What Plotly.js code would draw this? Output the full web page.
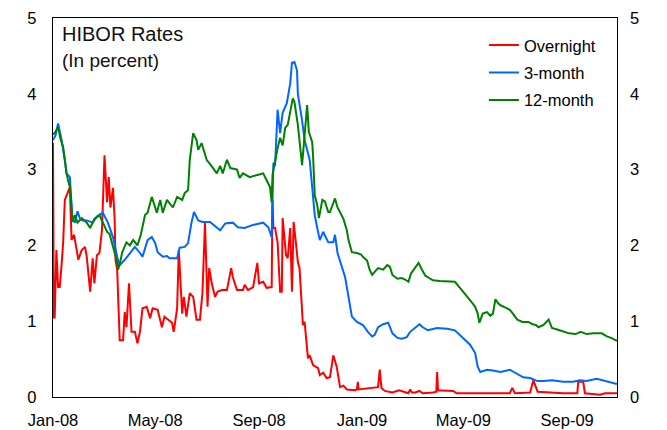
<!DOCTYPE html>
<html>
<head>
<meta charset="utf-8">
<script src="https://cdn.plot.ly/plotly-3.0.1.min.js"></script>
<style>html,body{margin:0;padding:0;background:#fff;}#chart{width:667px;height:430px;}</style>
</head>
<body>
<div id="chart"></div>
<script>
// Days counted from 2008-01-01, values in percent
var seriesNames = ["Overnight", "3-month", "12-month"];

var overnightDays = [0,1,2,4,6,8,10,12,14,17,20,22,25,28,30,34,38,40,44,47,49,52,55,58,61,64,66,68,71,73,74,76,79,83,85,87,90,93,97,100,103,106,111,115,118,124,129,132,136,141,143,147,149,153,155,158,162,166,170,174,177,180,182,183,185,188,192,195,200,206,211,213,218,225,227,231,237,242,244,249,253,258,259,260,261,263,266,269,271,272,276,278,281,283,285,288,290,292,295,296,298,301,302,304,308,314,316,320,324,328,332,336,340,344,348,358,360,361,362,385,387,389,393,402,410,421,423,425,429,434,438,450,454,455,456,474,478,541,544,547,565,569,574,604,621,622,628,630,648,654,668];
var overnightVals = [3.35,1.05,1.05,1.94,1.45,1.45,1.72,2.03,2.6,2.7,2.77,2.07,2.14,1.94,1.81,1.94,1.98,1.85,1.39,1.83,1.5,1.87,1.9,2.2,3.19,2.57,2.9,2.5,2.76,2.35,1.81,1.68,0.75,0.75,1.12,0.92,1.5,0.86,0.86,0.71,0.86,1.17,1.19,1.04,1.17,1.15,0.92,1.06,1.02,0.98,0.86,1.17,1.94,1.1,1.32,1.06,1.37,1.32,1.02,1.02,1.37,2.3,1.58,1.19,1.7,1.5,1.32,1.39,1.41,1.41,1.7,1.58,1.41,1.41,1.48,1.41,1.45,1.77,1.5,1.52,1.44,1.45,1.45,2.6,2.23,2.23,2.04,1.39,1.39,2.36,1.87,1.83,2.23,1.39,2.31,2.0,1.78,1.7,1.17,0.95,0.99,0.59,0.51,0.55,0.42,0.38,0.29,0.32,0.25,0.26,0.55,0.4,0.13,0.15,0.1,0.09,0.1,0.2,0.1,0.13,0.36,0.12,0.08,0.06,0.09,0.05,0.1,0.06,0.06,0.08,0.05,0.06,0.07,0.33,0.09,0.08,0.05,0.05,0.12,0.05,0.06,0.22,0.07,0.05,0.05,0.2,0.2,0.05,0.03,0.05,0.05];

var threeMonthDays = [0,3,6,10,14,16,20,22,23,26,29,32,35,40,47,52,55,59,65,71,76,79,85,91,97,103,106,112,117,121,124,130,135,138,147,150,156,160,164,167,172,177,186,198,204,213,219,227,237,249,255,259,260,261,263,266,269,272,277,281,283,286,289,290,295,298,304,308,310,313,316,320,326,332,334,337,346,350,354,360,367,373,378,381,385,391,397,402,408,413,419,423,429,434,438,444,455,467,476,485,494,500,503,506,514,521,530,541,547,557,565,574,581,591,604,616,624,632,644,656,663,668];
var threeMonthVals = [3.39,3.45,3.61,3.4,3.13,2.95,2.9,2.6,2.35,2.3,2.45,2.35,2.33,2.33,2.3,2.38,2.4,2.43,2.3,2.11,1.85,1.74,1.81,1.9,1.98,1.9,1.85,2.07,2.11,2.03,1.91,1.85,1.86,1.83,1.83,1.97,1.98,2.03,2.3,2.44,2.33,2.31,2.31,2.2,2.29,2.3,2.24,2.23,2.27,2.3,2.24,2.11,2.47,3.09,3.05,3.79,3.48,3.75,3.88,4.14,4.41,4.42,4.31,4.0,3.65,3.39,3.13,2.6,2.4,2.23,2.07,2.18,2.04,2.04,2.14,1.9,1.58,1.32,1.06,0.99,0.95,0.86,0.8,0.82,0.92,0.96,0.98,0.84,0.78,0.77,0.79,0.86,0.91,0.96,0.92,0.88,0.91,0.9,0.88,0.79,0.69,0.58,0.4,0.33,0.36,0.35,0.33,0.36,0.32,0.26,0.25,0.21,0.21,0.22,0.2,0.2,0.22,0.21,0.24,0.2,0.18,0.17];

var twelveMonthDays = [0,3,6,9,12,14,16,18,20,22,23,26,29,34,40,44,49,55,59,64,67,71,76,77,79,82,87,91,95,100,104,109,112,117,123,127,130,135,142,147,153,156,160,162,166,170,172,176,182,189,194,198,201,206,210,218,221,225,233,242,249,253,257,259,260,266,269,272,275,278,281,284,286,290,295,297,301,303,307,308,310,313,315,319,322,326,328,334,337,344,348,350,354,360,365,367,372,375,378,381,385,391,396,399,402,408,413,417,421,424,429,433,437,441,444,450,458,467,476,482,490,496,500,503,505,509,514,518,521,524,527,530,536,541,544,550,556,563,568,572,575,581,587,591,600,611,619,625,632,640,650,656,661,668];
var twelveMonthVals = [3.46,3.5,3.56,3.4,3.3,3.1,2.95,2.85,2.77,2.5,2.31,2.4,2.3,2.36,2.3,2.23,2.35,2.4,2.3,2.18,2.15,2.0,1.78,1.68,1.75,1.91,2.04,2.0,2.07,2.0,2.14,2.4,2.43,2.64,2.43,2.6,2.43,2.6,2.5,2.64,2.6,2.69,2.73,3.13,3.48,3.39,3.26,3.35,3.13,3.03,2.95,3.05,2.95,3.13,3.02,3.0,2.89,2.95,2.9,2.93,2.95,2.86,2.77,2.57,2.93,3.28,3.42,3.32,3.55,3.59,3.76,3.94,3.89,3.59,3.06,3.36,3.85,3.5,3.36,3.19,2.66,2.53,2.36,2.6,2.58,2.44,2.44,2.62,2.5,2.35,2.2,2.07,1.91,1.9,1.88,1.85,1.8,1.68,1.61,1.65,1.7,1.68,1.74,1.72,1.61,1.56,1.57,1.55,1.52,1.63,1.7,1.77,1.68,1.6,1.58,1.54,1.53,1.52,1.52,1.44,1.34,1.25,1.19,1.1,0.98,1.1,1.12,1.07,1.1,1.29,1.24,1.21,1.18,1.15,1.11,1.02,0.99,0.99,0.96,0.95,0.92,0.95,1.02,0.91,0.88,0.84,0.83,0.86,0.83,0.84,0.84,0.8,0.78,0.74];

var yTicks = [0,1,2,3,4,5];
var xStart = "2008-01-01", xEnd = "2009-10-30";

function toDates(days) {
  var base = Date.UTC(2008, 0, 1);
  return days.map(function (d) { return new Date(base + d * 86400000).toISOString().slice(0, 10); });
}

var colors = ["#FF0000", "#0066FF", "#008000"];
var daysList = [overnightDays, threeMonthDays, twelveMonthDays];
var valsList = [overnightVals, threeMonthVals, twelveMonthVals];

var traces = seriesNames.map(function (n, i) {
  return {
    type: "scatter", mode: "lines", name: n,
    x: toDates(daysList[i]), y: valsList[i],
    line: {color: colors[i], width: 2},
    legendgroup: "g" + i,
    hoverinfo: "x+y+name"
  };
});
// empty trace so the right-hand axis is drawn
traces.push({type: "scatter", mode: "lines", x: [null], y: [null], yaxis: "y2", showlegend: false, hoverinfo: "skip"});

var font = "Liberation Sans, Arial, sans-serif";
var layout = {
  width: 667, height: 430,
  margin: {l: 53, r: 50, t: 18, b: 33},
  paper_bgcolor: "#ffffff", plot_bgcolor: "#ffffff",
  font: {family: font, size: 16.5, color: "#000"},
  showlegend: true,
  legend: {x: 0.764, y: 0.974, xanchor: "left", yanchor: "top", bgcolor: "rgba(0,0,0,0)",
           font: {family: font, size: 16.5, color: "#000"}, traceorder: "grouped", tracegroupgap: 3},
  xaxis: {type: "date", range: [xStart, xEnd], tick0: "2008-01-01", dtick: "M4", tickformat: "%b-%y",
          showgrid: false, zeroline: false, showline: true, mirror: true, linecolor: "#000", linewidth: 1.2,
          ticks: "", ticklabelstandoff: 8, tickfont: {family: font, size: 16.5, color: "#000"}},
  yaxis: {range: [0, 5], tickvals: yTicks, showgrid: false, zeroline: false, showline: true, mirror: true,
          linecolor: "#000", linewidth: 1.2, ticks: "", ticklabelstandoff: 12,
          tickfont: {family: font, size: 16.5, color: "#000"}},
  yaxis2: {range: [0, 5], tickvals: yTicks, overlaying: "y", side: "right", anchor: "x", showgrid: false,
           zeroline: false, showline: false, ticks: "", ticklabelstandoff: 12,
           tickfont: {family: font, size: 16.5, color: "#000"}},
  annotations: [
    {xref: "paper", yref: "paper", x: 0.012, y: 0.958, xanchor: "left", yanchor: "middle", showarrow: false,
     text: "HIBOR Rates", font: {family: font, size: 20, color: "#111"}},
    {xref: "paper", yref: "paper", x: 0.012, y: 0.888, xanchor: "left", yanchor: "middle", showarrow: false,
     text: "(In percent)", font: {family: font, size: 19, color: "#111"}}
  ]
};

Plotly.newPlot("chart", traces, layout, {displayModeBar: false, staticPlot: true});
</script>
</body>
</html>
